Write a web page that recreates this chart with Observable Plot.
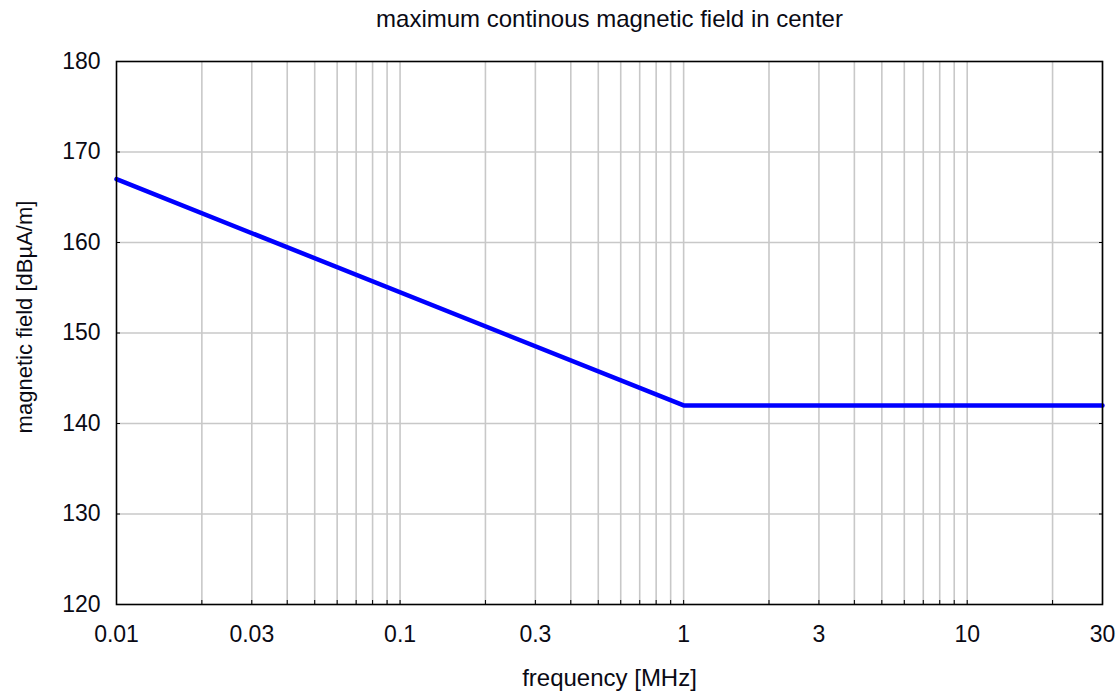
<!DOCTYPE html>
<html>
<head>
<meta charset="utf-8">
<script src="https://cdn.jsdelivr.net/npm/d3@7"></script>
<script src="https://cdn.jsdelivr.net/npm/@observablehq/plot@0.6"></script>
<style>
  html, body { margin: 0; padding: 0; background: #fff; }
  #chart svg { display: block; }
</style>
</head>
<body>
<div id="chart"></div>
<script>
// ---- data ----
const frequency = [0.01, 1, 30];          // MHz
const field = [167, 142, 142];            // dBµA/m
const xTickLabels = [0.01, 0.03, 0.1, 0.3, 1, 3, 10, 30];
const xGridValues = [0.02, 0.03, 0.04, 0.05, 0.06, 0.07, 0.08, 0.09,
  0.1, 0.2, 0.3, 0.4, 0.5, 0.6, 0.7, 0.8, 0.9,
  1, 2, 3, 4, 5, 6, 7, 8, 9,
  10, 20, 30];
const yTicks = [120, 130, 140, 150, 160, 170, 180];
const yGrid = [130, 140, 150, 160, 170];
const titleText = "maximum continous magnetic field in center";
const xLabel = "frequency [MHz]";
const yLabel = "magnetic field [dBµA/m]";

const data = frequency.map((f, i) => ({f, v: field[i]}));
const font = "Liberation Sans, Arial, Helvetica, sans-serif";
const textColor = "#0a0a14";

const chart = Plot.plot({
  width: 1120,
  height: 695,
  marginLeft: 116,
  marginRight: 18,
  marginTop: 61,
  marginBottom: 91,
  style: {fontFamily: font, background: "#fff", color: textColor},
  x: {type: "log", domain: [0.01, 30]},
  y: {domain: [120, 180]},
  marks: [
    Plot.gridX(xGridValues, {stroke: "#c8c8c8", strokeOpacity: 1, strokeWidth: 1.6}),
    Plot.gridY(yGrid, {stroke: "#c8c8c8", strokeOpacity: 1, strokeWidth: 1.6}),
    Plot.line(data, {x: "f", y: "v", stroke: "#0000ff", strokeWidth: 4.5}),
    Plot.frame({stroke: "#000", strokeWidth: 1.6}),
    // inward ticks
    Plot.axisX(xGridValues, {anchor: "bottom", tickSize: -4, text: null, label: null, stroke: "#000"}),
    Plot.axisY(yTicks, {anchor: "left", tickSize: -4, text: null, label: null, stroke: "#000"}),
    Plot.axisY(yTicks, {anchor: "right", tickSize: -4, text: null, label: null, stroke: "#000"}),
    // tick labels
    Plot.axisX(xTickLabels, {anchor: "bottom", tickSize: 0, tickPadding: 21, fontSize: 23,
      tickFormat: d => String(d), label: null, fill: textColor}),
    Plot.axisY(yTicks, {anchor: "left", tickSize: 0, tickPadding: 16, fontSize: 23,
      tickFormat: d => String(d), label: null, fill: textColor}),
    // titles
    Plot.text([titleText], {frameAnchor: "top", lineAnchor: "bottom", dy: -35, fontSize: 24, fill: textColor}),
    Plot.text([xLabel], {frameAnchor: "bottom", lineAnchor: "bottom", dy: 81, fontSize: 24, fill: textColor}),
    Plot.text([yLabel], {frameAnchor: "left", textAnchor: "middle", lineAnchor: "bottom", rotate: -90,
      dx: -85, dy: -16, fontSize: 22, fill: textColor})
  ]
});
document.getElementById("chart").appendChild(chart);
</script>
</body>
</html>
